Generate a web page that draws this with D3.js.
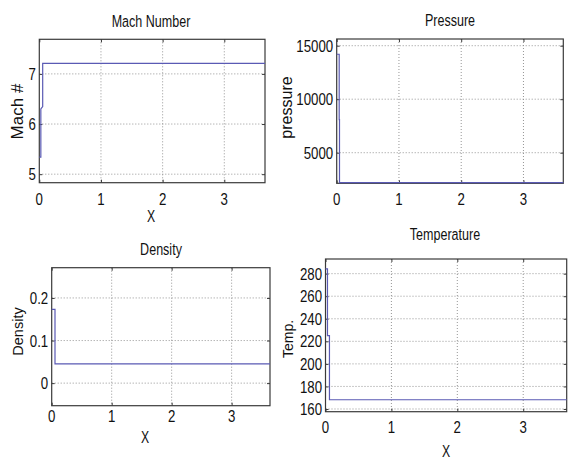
<!DOCTYPE html>
<html>
<head>
<meta charset="utf-8">
<script src="https://cdn.jsdelivr.net/npm/d3@7"></script>
<style>
  html, body { margin: 0; padding: 0; background: #fff; }
  svg { display: block; }
  text { font-family: "Liberation Sans", Arial, sans-serif; fill: #111; }
</style>
</head>
<body>
<svg id="chart" width="568" height="459"></svg>
<script>
// Flow properties along x (step through the shock near x = 0)
const machX = [0, 0.025, 0.025, 0.055, 0.055, 3.66];
const machY = [5.34, 5.34, 6.3, 6.35, 7.21, 7.21];

const pressX = [0, 0.04, 0.04, 0.045, 0.045, 3.64];
const pressY = [14200, 14200, 8100, 8100, 2200, 2200];

const densX = [0, 0.055, 0.055, 3.64];
const densY = [0.173, 0.173, 0.045, 0.045];

const tempX = [0, 0.03, 0.03, 0.06, 0.06, 3.66];
const tempY = [284.2, 284.2, 225, 225, 168.2, 168.2];

const xTicks = [0, 1, 2, 3];
const machTicks = [5, 6, 7];
const pressTicks = [5000, 10000, 15000];
const densTicks = [0, 0.1, 0.2];
const tempTicks = [160, 180, 200, 220, 240, 260, 280];

const titles = ["Mach Number", "Pressure", "Density", "Temperature"];
const yLabels = ["Mach #", "pressure", "Density", "Temp."];
const xLabel = "X";

const svg = d3.select("#chart");
const lineColor = "#5a5ab4";
const boxColor = "#3a3a3a";

const panels = [
  { box: [39.3, 39.3, 265, 182.7], xMax: 3.66, yDom: [4.83, 7.69], xs: machX, ys: machY,
    ticks: machTicks, fmt: d3.format("d"), title: titles[0], titleXY: [151, 26.5],
    ylab: yLabels[0], ylabXY: [22.5, 111.5], ylabSize: 17, xlabXY: [151, 221.5], tickBase: 205 },
  { box: [336.7, 39, 563.3, 183.3], xMax: 3.64, yDom: [2140, 15626], xs: pressX, ys: pressY,
    ticks: pressTicks, fmt: d3.format("d"), title: titles[1], titleXY: [450, 26],
    ylab: yLabels[1], ylabXY: [292, 107.5], ylabSize: 16, xlabXY: null, tickBase: 205 },
  { box: [51.7, 267.7, 270, 405.7], xMax: 3.64, yDom: [-0.053, 0.271], xs: densX, ys: densY,
    ticks: densTicks, fmt: d => d === 0 ? "0" : d3.format(".1f")(d), title: titles[2], titleXY: [161, 255],
    ylab: yLabels[2], ylabXY: [23, 331.5], ylabSize: 14.5, xlabXY: [145, 443], tickBase: 421.5 },
  { box: [325.5, 259, 566.7, 411.7], xMax: 3.66, yDom: [157.6, 293], xs: tempX, ys: tempY,
    ticks: tempTicks, fmt: d3.format("d"), title: titles[3], titleXY: [445, 239.5],
    ylab: yLabels[3], ylabXY: [293, 339], ylabSize: 14, xlabXY: [446, 456.5], tickBase: 433 }
];

// condensed text placed at (x, y)
function narrowText(g, x, y, str, size, squeeze, anchor) {
  return g.append("text")
    .attr("transform", `translate(${x},${y}) scale(${squeeze},1)`)
    .attr("text-anchor", anchor || "middle")
    .style("font-size", size + "px")
    .text(str);
}

panels.forEach(p => {
  const [l, t, r, b] = p.box;
  const x = d3.scaleLinear().domain([0, p.xMax]).range([l, r]);
  const y = d3.scaleLinear().domain(p.yDom).range([b, t]);
  const g = svg.append("g");

  // dotted grid
  g.append("g").selectAll("line").data(xTicks.filter(v => v > 0)).join("line")
    .attr("x1", d => x(d)).attr("x2", d => x(d)).attr("y1", t).attr("y2", b)
    .attr("stroke", "#8a8a8a").attr("stroke-width", 0.9).attr("stroke-dasharray", "1,2");
  g.append("g").selectAll("line").data(p.ticks).join("line")
    .attr("x1", l).attr("x2", r).attr("y1", d => y(d)).attr("y2", d => y(d))
    .attr("stroke", "#8a8a8a").attr("stroke-width", 0.9).attr("stroke-dasharray", "1,2");

  // inward ticks on all four sides
  const strip = a => { a.select(".domain").remove(); a.selectAll("line").attr("stroke", boxColor); };
  g.append("g").attr("transform", `translate(0,${b})`)
    .call(d3.axisBottom(x).tickValues(xTicks).tickSize(-3).tickFormat("")).call(strip);
  g.append("g").attr("transform", `translate(${l},0)`)
    .call(d3.axisLeft(y).tickValues(p.ticks).tickSize(-3).tickFormat("")).call(strip);
  g.append("g").attr("transform", `translate(0,${t})`)
    .call(d3.axisTop(x).tickValues(xTicks).tickSize(-3).tickFormat("")).call(strip);
  g.append("g").attr("transform", `translate(${r},0)`)
    .call(d3.axisRight(y).tickValues(p.ticks).tickSize(-3).tickFormat("")).call(strip);

  // box
  g.append("rect").attr("x", l).attr("y", t).attr("width", r - l).attr("height", b - t)
    .attr("fill", "none").attr("stroke", boxColor).attr("stroke-width", 1.2);

  // tick labels
  xTicks.forEach(v => narrowText(g, x(v), p.tickBase, String(v), 17, 0.78, "middle"));
  p.ticks.forEach(v => narrowText(g, l - 3.5, y(v) + 6.1, p.fmt(v), 17, 0.78, "end"));

  // data line
  const pts = p.xs.map((v, i) => [v, p.ys[i]]);
  g.append("path").datum(pts)
    .attr("d", d3.line().x(d => x(d[0])).y(d => y(d[1])))
    .attr("fill", "none").attr("stroke", lineColor).attr("stroke-width", 1.2);

  // labels
  narrowText(g, p.titleXY[0], p.titleXY[1], p.title, 16.5, 0.76, "middle");
  if (p.xlabXY) narrowText(g, p.xlabXY[0], p.xlabXY[1], xLabel, 17, 0.72, "middle");
  g.append("text")
    .attr("transform", `translate(${p.ylabXY[0]},${p.ylabXY[1]}) rotate(-90)`)
    .attr("text-anchor", "middle")
    .style("font-size", p.ylabSize + "px")
    .text(p.ylab);
});
</script>
</body>
</html>
